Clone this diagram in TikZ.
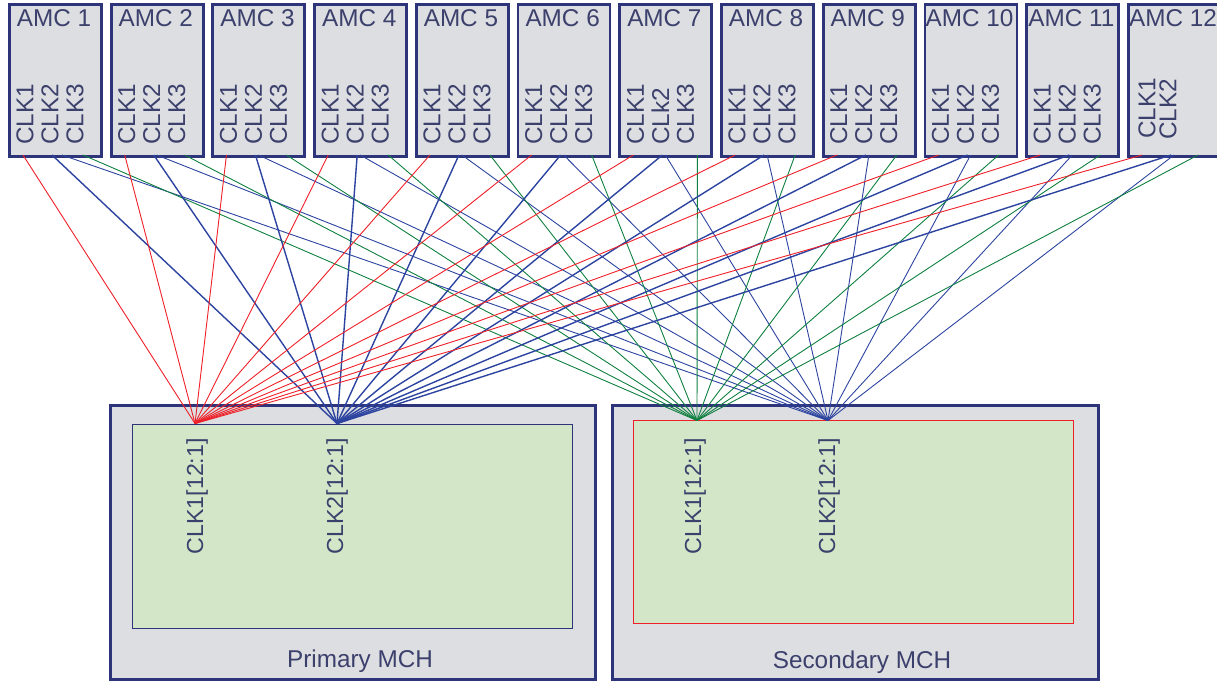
\documentclass[tikz,border=0pt]{standalone}
\usepackage{fontspec}
\setmainfont{Liberation Sans}
\usetikzlibrary{calc}
\definecolor{boxfill}{RGB}{221,222,225}
\definecolor{boxline}{RGB}{46,52,122}
\definecolor{txtc}{RGB}{60,64,108}
\definecolor{grnfill}{RGB}{211,230,199}
\definecolor{redl}{RGB}{238,32,40}
\definecolor{bluel}{RGB}{44,68,160}
\definecolor{greenl}{RGB}{16,128,64}
\begin{document}
\begin{tikzpicture}[x=1pt,y=-1pt,
  font=\fontsize{24.3}{27}\selectfont,
  amcbox/.style={draw=boxline, line width=2.8pt, fill=boxfill, minimum width=92pt, minimum height=152pt, inner sep=0pt, anchor=north west},
  mchbox/.style={draw=boxline, line width=2.8pt, fill=boxfill, inner sep=0pt, anchor=north west},
  innerbox/.style={fill=grnfill, line width=1.4pt, inner sep=0pt, anchor=north west},
  lbl/.style={text=txtc, inner sep=0pt},
  vlbl/.style={text=txtc, inner sep=0pt, rotate=90},
  mlbl/.style={vlbl, font=\fontsize{23.2}{26}\selectfont},
  redw/.style={draw=redl, line width=0.9pt},
  bluethick/.style={draw=bluel, line width=1.4pt},
  bluethin/.style={draw=bluel, line width=0.9pt},
  greenw/.style={draw=greenl, line width=0.9pt}]
\useasboundingbox (0,0) rectangle (1217,680);

% MCH boxes
\node[mchbox, minimum width=485pt, minimum height=274pt] (pm) at (109,404) {};
\node[innerbox, draw=boxline, minimum width=440pt, minimum height=204pt] (pmi) at (132,424) {};
\node[mchbox, minimum width=486pt, minimum height=274pt] (sm) at (611,404) {};
\node[innerbox, draw=redl, minimum width=440pt, minimum height=203pt] (smi) at (633,420) {};

\node[lbl, anchor=base] (pmt) at (360,667) {Primary MCH};
\node[lbl, anchor=base] (smt) at (862,668) {Secondary MCH};

\node[mlbl, anchor=east] (pc1) at (197,438) {CLK1[12:1]};
\node[mlbl, anchor=east] (pc2) at (337,438) {CLK2[12:1]};
\node[mlbl, anchor=east] (sc1) at (695,438) {CLK1[12:1]};
\node[mlbl, anchor=east] (sc2) at (829,438) {CLK2[12:1]};

\coordinate (p1) at (195,423.5);
\coordinate (p2) at (337,423.5);
\coordinate (s1) at (697,420.5);
\coordinate (s2) at (828,420.5);

% AMC boxes
\foreach \i in {1,...,12} {
  \pgfmathsetmacro\xl{8+(\i-1)*101.73}
  \pgfmathsetmacro\bso{\i==1 ? 54 : 47}
  \pgfmathsetmacro\go{\i==12 ? 71 : (\i==7 ? 79 : 75)}
  \node[amcbox] (amc\i) at (\xl,3) {};
  \node[lbl, anchor=base] (amct\i) at (\xl+46,26) {AMC \i};
  \coordinate (r\i) at (\xl+15,155);
  \coordinate (bp\i) at (\xl+44,155);
  \coordinate (bs\i) at (\xl+\bso,155);
  \coordinate (g\i) at (\xl+\go,155);
}
\foreach \i in {1,...,11} {
  \pgfmathsetmacro\xl{8+(\i-1)*101.73}
  \node[vlbl, anchor=west] (ck\i-1) at (\xl+17,145) {CLK1};
  \node[vlbl, anchor=west] (ck\i-2) at (\xl+42,145) {\ifnum\i=7 CLk2\else CLK2\fi};
  \node[vlbl, anchor=west] (ck\i-3) at (\xl+67,145) {CLK3};
}
\node[vlbl, anchor=west] (ck12-1) at (1147,139) {CLK1};
\node[vlbl, anchor=west] (ck12-2) at (1168,140) {CLK2};

% connectors
\foreach \i in {1,...,12} {
  \draw[redw] (r\i) -- (p1);
  \draw[bluethick] (bp\i) -- (p2);
  \draw[bluethin] (bs\i) -- (s2);
  \draw[greenw] (g\i) -- (s1);
}
\end{tikzpicture}
\end{document}
